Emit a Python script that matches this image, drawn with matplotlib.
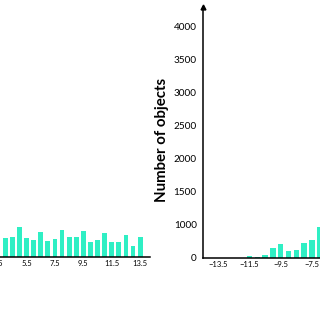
# -*- coding: utf-8 -*-
import matplotlib
matplotlib.use('Agg')
import matplotlib.pyplot as plt
import numpy as np

plt.rcParams['font.family'] = ['Lato', 'DejaVu Sans']

# Left panel (cropped): bin centres and counts
left_bins = [4.0, 4.5, 5.0, 5.5, 6.0, 6.5, 7.0, 7.5, 8.0, 8.5,
             9.0, 9.5, 10.0, 10.5, 11.0, 11.5, 12.0, 12.5, 13.0, 13.5]
left_counts = [565, 605, 890, 565, 505, 735, 485, 535, 820, 585,
               605, 765, 435, 515, 720, 435, 435, 645, 310, 585]
left_ticks = [1.5, 3.5, 5.5, 7.5, 9.5, 11.5, 13.5]

# Right panel (cropped)
right_bins = [-11.5, -11.0, -10.5, -10.0, -9.5, -9.0, -8.5, -8.0, -7.5, -7.0]
right_counts = [50, 30, 90, 285, 415, 205, 235, 435, 535, 940]
right_ticks = [-13.5, -11.5, -9.5, -7.5]
y_ticks = [0, 1000, 1500, 2000, 2500, 3000, 3500, 4000]

bar_color = '#2FEFC4'


# y axis of the source is compressed below 1000
def fwd(y):
    y = np.asarray(y, dtype=float)
    return np.where(y < 1000, y / 2, y - 500)


def inv(x):
    x = np.asarray(x, dtype=float)
    return np.where(x < 500, x * 2, x + 500)


fig = plt.figure(figsize=(3.2, 3.2), dpi=100)

# left axes runs off the left edge of the picture
ax1 = fig.add_axes([-0.625, 0.198, 1.094, 0.784])
ax1.set_yscale('function', functions=(fwd, inv))
ax1.bar(left_bins, left_counts, width=0.34, color=bar_color)
ax1.set_ylim(0, 4303)
ax1.set_xlim(14.2 - 350 / 14.2, 14.2)
ax1.set_xticks(left_ticks)
ax1.set_xticklabels([str(t) for t in left_ticks])
ax1.set_yticks([])
ax1.tick_params(axis='x', length=0, labelsize=5.5, pad=2.5)
ax1.spines['top'].set_visible(False)
ax1.spines['right'].set_visible(False)
ax1.spines['bottom'].set_linewidth(1.1)

# right axes runs off the right edge
ax2 = fig.add_axes([203 / 320, 0.195, 0.625, 0.784])
ax2.set_yscale('function', functions=(fwd, inv))
ax2.bar(right_bins, right_counts, width=0.34, color=bar_color)
ax2.set_ylim(0, 4303)
ax2.set_xlim(-14.48, -14.48 + 200 / 15.6)
ax2.set_xticks(right_ticks)
ax2.set_xticklabels(['\u2212' + str(abs(t)) for t in right_ticks])
ax2.set_yticks(y_ticks)
ax2.set_yticklabels([str(t) for t in y_ticks])
ax2.yaxis.set_minor_locator(matplotlib.ticker.NullLocator())
ax2.tick_params(axis='x', length=0, labelsize=5.5, pad=2.5)
ax2.tick_params(axis='y', length=0, labelsize=7.2, pad=4.5)
ax2.spines['top'].set_visible(False)
ax2.spines['right'].set_visible(False)
ax2.spines['bottom'].set_linewidth(1.1)
ax2.spines['left'].set_linewidth(1.1)
ax2.plot(0, 1, '^k', markersize=3.5, transform=ax2.transAxes, clip_on=False)
ax2.set_ylabel('Number of objects', fontsize=10.8, fontweight='bold')
ax2.yaxis.set_label_coords(-0.17, 0.47)

fig.savefig('out.png', dpi=100)
